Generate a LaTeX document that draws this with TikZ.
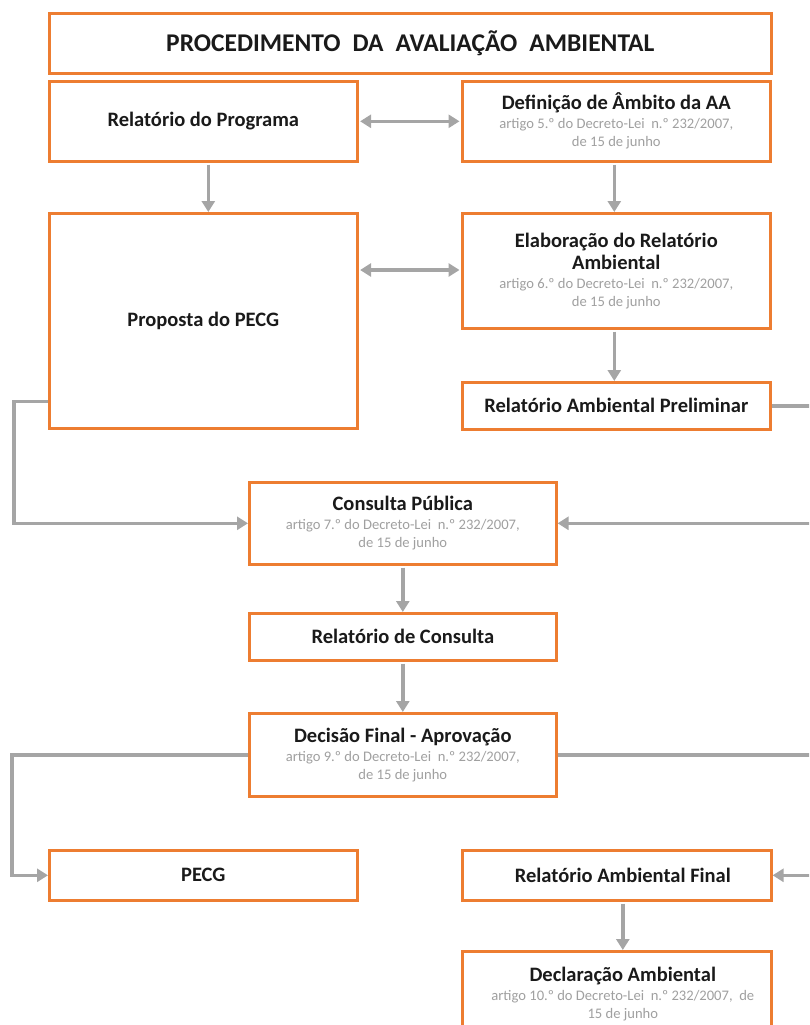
\documentclass[tikz,border=0pt]{standalone}
\usepackage{fontspec}
\setmainfont{Carlito}
\usetikzlibrary{arrows.meta,calc}
\definecolor{orng}{HTML}{ED7D31}
\definecolor{conngray}{HTML}{A5A5A5}
\definecolor{subgray}{HTML}{A0A0A0}
\definecolor{ttl}{HTML}{1A1A1A}
\tikzset{
  box/.style={draw=orng, line width=2.6pt, fill=white, anchor=north west, align=center,
    inner sep=2pt, text=ttl, font=\bfseries\fontsize{20.5}{23}\selectfont},
  conn/.style={draw=conngray, line width=3.6pt},
  arr/.style={conn, -{Triangle[length=11pt,width=13pt]}},
  darr/.style={conn, {Triangle[length=11pt,width=13pt]}-{Triangle[length=11pt,width=13pt]}},
}
\newcommand{\subt}[1]{{\color{subgray}\normalfont\fontsize{14.6}{18}\selectfont #1}}
\newcommand{\tsp}{\hspace{12pt}}
\begin{document}
\begin{tikzpicture}[x=1pt,y=-1pt]
\useasboundingbox (0,0) rectangle (809,1025);
\clip (0,0) rectangle (809,1025);
\node[box, minimum width=722, minimum height=60, font=\bfseries\fontsize{25.5}{28}\selectfont] (title) at (48,12) {PROCEDIMENTO\tsp DA\tsp AVALIAÇÃO\tsp AMBIENTAL};
\node[box, minimum width=308, minimum height=80] (rp) at (48,80) {Relatório do Programa};
\node[box, minimum width=308, minimum height=80] (def) at (461,80) {Definição de Âmbito da AA\\[-4pt] \subt{artigo 5.º do Decreto-Lei\ \ n.º 232/2007,}\\[-5pt] \subt{de 15 de junho}};
\node[box, minimum width=308, minimum height=215] (prop) at (48,212) {Proposta do PECG};
\node[box, minimum width=308, minimum height=115] (elab) at (461,212) {Elaboração do Relatório\\[-1pt] Ambiental\\[-4pt] \subt{artigo 6.º do Decreto-Lei\ \ n.º 232/2007,}\\[-5pt] \subt{de 15 de junho}};
\node[box, minimum width=308, minimum height=47] (rap) at (461,381) {Relatório Ambiental Preliminar};
\node[box, minimum width=307, minimum height=82] (cp) at (248,481) {Consulta Pública\\[-4pt] \subt{artigo 7.º do Decreto-Lei\ \ n.º 232/2007,}\\[-5pt] \subt{de 15 de junho}};
\node[box, minimum width=307, minimum height=47] (rc) at (248,612) {Relatório de Consulta};
\node[box, minimum width=307, minimum height=83] (df) at (248,712) {Decisão Final - Aprovação\\[-4pt] \subt{artigo 9.º do Decreto-Lei\ \ n.º 232/2007,}\\[-5pt] \subt{de 15 de junho}};
\node[box, minimum width=308, minimum height=50] (pecg) at (48,849) {PECG};
\node[box, minimum width=309, minimum height=50] (raf) at (461,849) {\hspace*{12pt}Relatório Ambiental Final};
\node[box, minimum width=309, minimum height=86] (decl) at (461,950) {\hspace*{12pt}Declaração Ambiental\\[-4pt] \hspace*{12pt}\subt{artigo 10.º do Decreto-Lei\ \ n.º 232/2007,\ \ de}\\[-5pt] \hspace*{12pt}\subt{15 de junho}};
\coordinate (e1) at (815,405);
\coordinate (e2) at (815,522);
\coordinate (e3) at (815,753);
\coordinate (e4) at (815,874);
\draw[darr, shorten <=1.5pt, shorten >=1.5pt] (rp.east) -- (def.west);
\draw[darr, shorten <=1.5pt, shorten >=1.5pt] (prop.east |- 0,270) -- (elab.west |- 0,270);
\draw[arr, shorten <=2pt] ([xshift=5pt]rp.south) -- ([xshift=5pt]prop.north);
\draw[arr, shorten <=2pt] ([xshift=-2pt]def.south) -- ([xshift=-2pt]elab.north);
\draw[arr, shorten <=2pt] ([xshift=-2pt]elab.south) -- ([xshift=-2pt]rap.north);
\draw[conn] (rap.east) -- (rap.east -| e1);
\draw[arr] ([yshift=28pt]prop.south west) -- ++(-34,0) |- (cp.west);
\draw[arr] (cp.east -| e2) -- (cp.east);
\draw[arr, shorten <=2pt] (cp.south) -- (rc.north);
\draw[arr, shorten <=2pt] (rc.south) -- (df.north);
\draw[conn] (df.east) -- (df.east -| e3);
\draw[arr] (df.west) -- ++(-236,0) |- (pecg.west);
\draw[arr] (raf.east -| e4) -- (raf.east);
\draw[arr, shorten <=2pt] ([xshift=6pt]raf.south) -- ([xshift=6pt]decl.north);
\end{tikzpicture}
\end{document}
